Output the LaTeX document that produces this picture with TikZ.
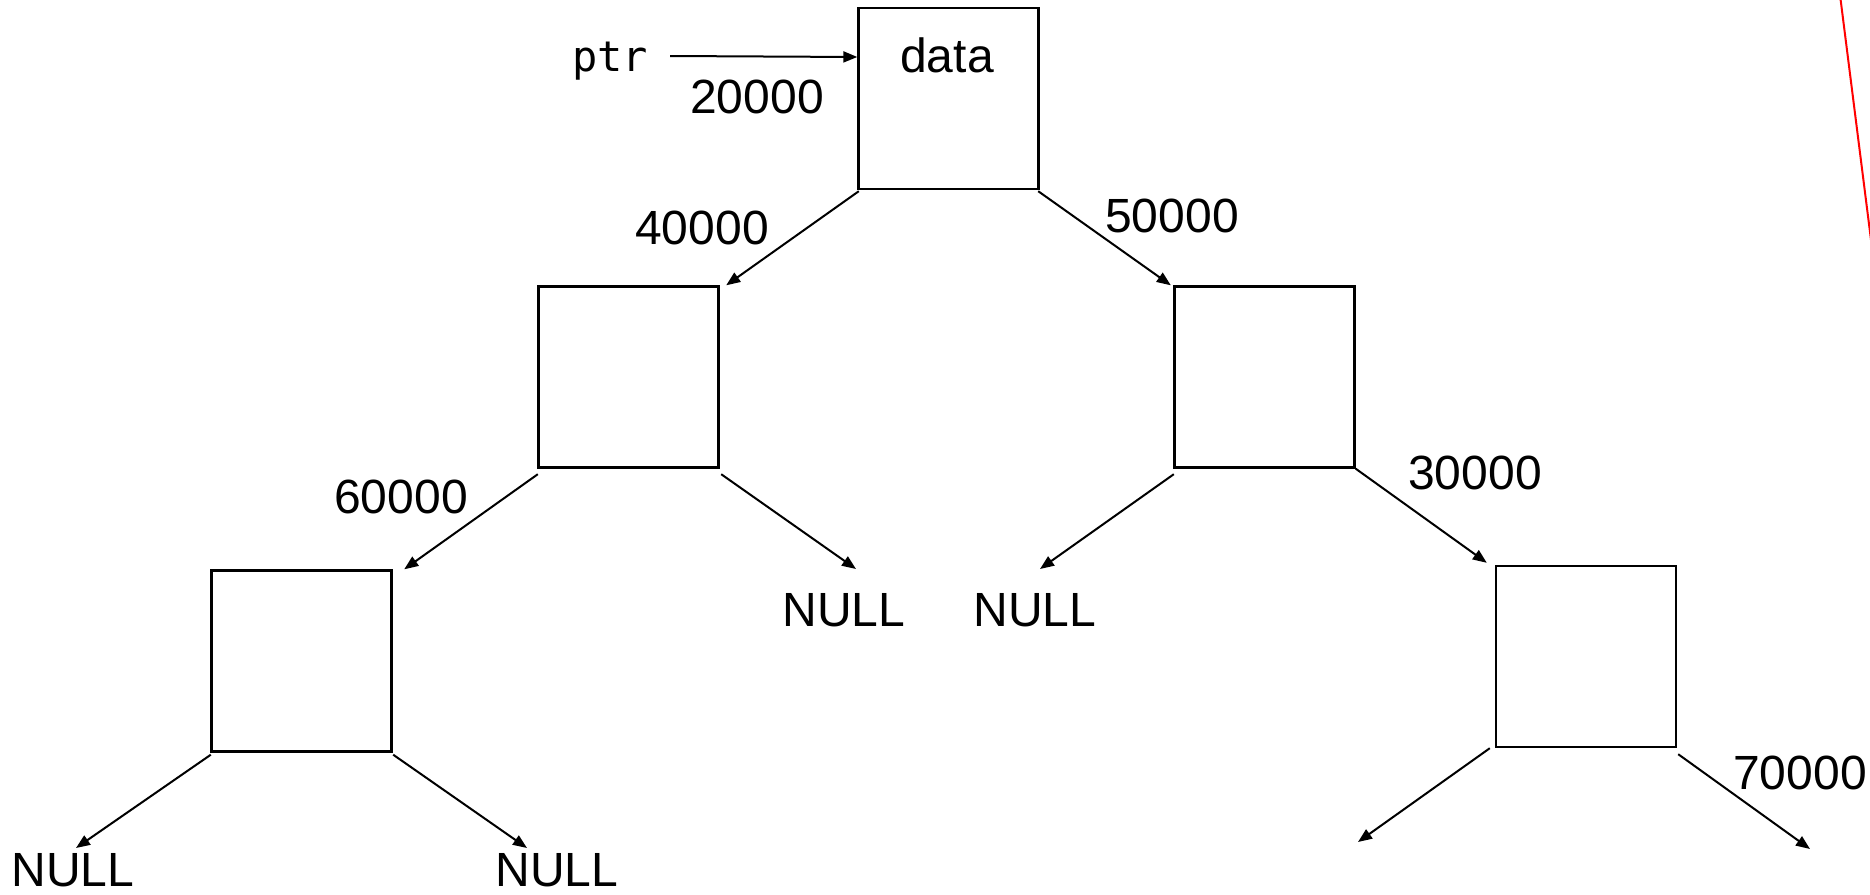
\documentclass[tikz,border=0pt]{standalone}
\usepackage{fontspec}
\setmainfont{Liberation Sans}
\newfontfamily\ptrfont{DejaVu Sans Mono}
\usetikzlibrary{arrows.meta}
\begin{document}
\begin{tikzpicture}[x=1pt,y=-1pt,
  boxnode/.style={draw,line width=2.4pt,minimum width=180pt,minimum height=181pt,inner sep=0pt},
  lbl/.style={inner sep=0pt,anchor=base,font=\fontsize{48}{56}\selectfont},
  arr/.style={line width=2pt,-{Triangle[length=14pt,width=11pt]}}]
\useasboundingbox (0,0) rectangle (1870,894);
% boxes
\node[boxnode] (root) at (948.5,98.5) {};
\node[boxnode] (L1) at (628.5,377) {};
\node[boxnode] (R1) at (1264.5,377) {};
\node[boxnode] (LL) at (301.5,661) {};
\node[boxnode] (RR) at (1586,656.5) {};
% texts
\node[lbl] (data) at (947,72) {data};
\node[inner sep=0pt,anchor=base,font=\ptrfont\fontsize{42}{50}\selectfont] (ptr) at (610,71) {ptr};
\node[lbl] (a20) at (757,113) {20000};
\node[lbl] (a40) at (702,244) {40000};
\node[lbl] (a50) at (1172,232) {50000};
\node[lbl] (a60) at (401,513) {60000};
\node[lbl] (a30) at (1475,489) {30000};
\node[lbl] (a70) at (1800,789) {70000};
\node[lbl] (n1) at (844,626) {NULL};
\node[lbl] (n2) at (1035,626) {NULL};
\node[lbl] (n3) at (73,886) {NULL};
\node[lbl] (n4) at (557,886) {NULL};
\coordinate (e1) at (1358,842);
\coordinate (e2) at (1810,849);
% connectors
\draw[arr] ([shift={(60,-15)}]ptr.base) -- ([shift={(0,-41.5)}]root.west);
\draw[arr] ([shift={(1.5,1)}]root.south west) -- ([shift={(6.5,0)}]L1.north east);
\draw[arr] ([shift={(-1.5,1)}]root.south east) -- ([shift={(-2.5,0)}]R1.north west);
\draw[arr] ([shift={(0.5,5.5)}]L1.south west) -- ([shift={(11.5,0)}]LL.north east);
\draw[arr] ([shift={(1.5,5.5)}]L1.south east) -- ([shift={(12,-57)}]n1.base);
\draw[arr] ([shift={(0.5,5.5)}]R1.south west) -- ([shift={(5,-57)}]n2.base);
\draw[arr] (R1.south east) -- ([shift={(-8,-2)}]RR.north west);
\draw[arr] ([shift={(0.5,2)}]LL.south west) -- ([shift={(3,-38)}]n3.base);
\draw[arr] ([shift={(0.5,2)}]LL.south east) -- ([shift={(-30,-38)}]n4.base);
\draw[arr] ([shift={(-5,0)}]RR.south west) -- (e1);
\draw[arr] ([shift={(1,6)}]RR.south east) -- (e2);
% red line
\begin{scope}
\clip (0,0) rectangle (1870,894);
\draw[red,line width=2pt] (1840,-5) -- (1871,240);
\end{scope}
\end{tikzpicture}
\end{document}
